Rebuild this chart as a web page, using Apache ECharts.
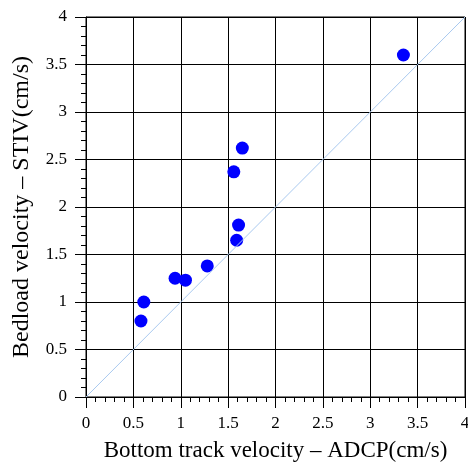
<!DOCTYPE html>
<html>
<head>
<meta charset="utf-8">
<script src="https://cdn.jsdelivr.net/npm/echarts@6/dist/echarts.min.js"></script>
<style>
  html, body { margin: 0; padding: 0; background: #fff; }
  #chart { width: 468px; height: 465px; }
</style>
</head>
<body>
<div id="chart"></div>
<script>
// 数据
const adcpVel = [0.58, 0.61, 0.94, 1.05, 1.28, 1.59, 1.61, 1.56, 1.65, 3.35];
const stivVel = [0.80, 1.00, 1.25, 1.23, 1.38, 1.65, 1.81, 2.37, 2.62, 3.60];
const lineX = [0, 4];
const lineY = [0, 4];

const points = adcpVel.map((v, i) => [v, stivVel[i]]);
const diag = lineX.map((v, i) => [v, lineY[i]]);

let chart = echarts.init(document.getElementById("chart"));

const axisCommon = {
	type: "value",
	min: 0,
	max: 4,
	interval: 0.5,
	nameLocation: "middle",
	axisLine: {
		show: true,
		lineStyle: { color: "#000", width: 1 },
	},
	axisTick: {
		show: true,
		length: 11,
		lineStyle: { color: "#000" },
	},
	minorTick: {
		show: true,
		splitNumber: 5,
		length: 5,
		lineStyle: { color: "#000" },
	},
	axisLabel: {
		fontFamily: "Liberation Serif",
		fontSize: 17,
		color: "#000",
	},
	splitLine: {
		show: true,
		lineStyle: { color: "#000", width: 1 },
	},
};

const option = {
	animation: false,
	grid: {
		left: 86,
		right: 3,
		top: 17,
		bottom: 68,
		show: true,
		borderColor: "#000",
		borderWidth: 1,
		outerBoundsMode: "none",
		containLabel: false,
	},
	xAxis: Object.assign({}, axisCommon, {
		name: "Bottom track velocity – ADCP(cm/s)",
		nameGap: 42,
		nameTextStyle: { fontFamily: "Liberation Serif", fontSize: 23, color: "#000" },
		axisLabel: Object.assign({}, axisCommon.axisLabel, { margin: 18 }),
	}),
	yAxis: Object.assign({}, axisCommon, {
		name: "Bedload velocity – STIV(cm/s)",
		nameGap: 52,
		nameTextStyle: { fontFamily: "Liberation Serif", fontSize: 24, color: "#000" },
		axisLabel: Object.assign({}, axisCommon.axisLabel, { margin: 19 }),
	}),
	series: [
		{
			type: "line",
			data: diag,
			symbol: "none",
			lineStyle: { color: "#a9c9ef", width: 1 },
			silent: true,
		},
		{
			type: "scatter",
			data: points,
			symbolSize: 13,
			itemStyle: { color: "#0000ff", opacity: 1 },
		},
	],
};

chart.setOption(option);
</script>
</body>
</html>
